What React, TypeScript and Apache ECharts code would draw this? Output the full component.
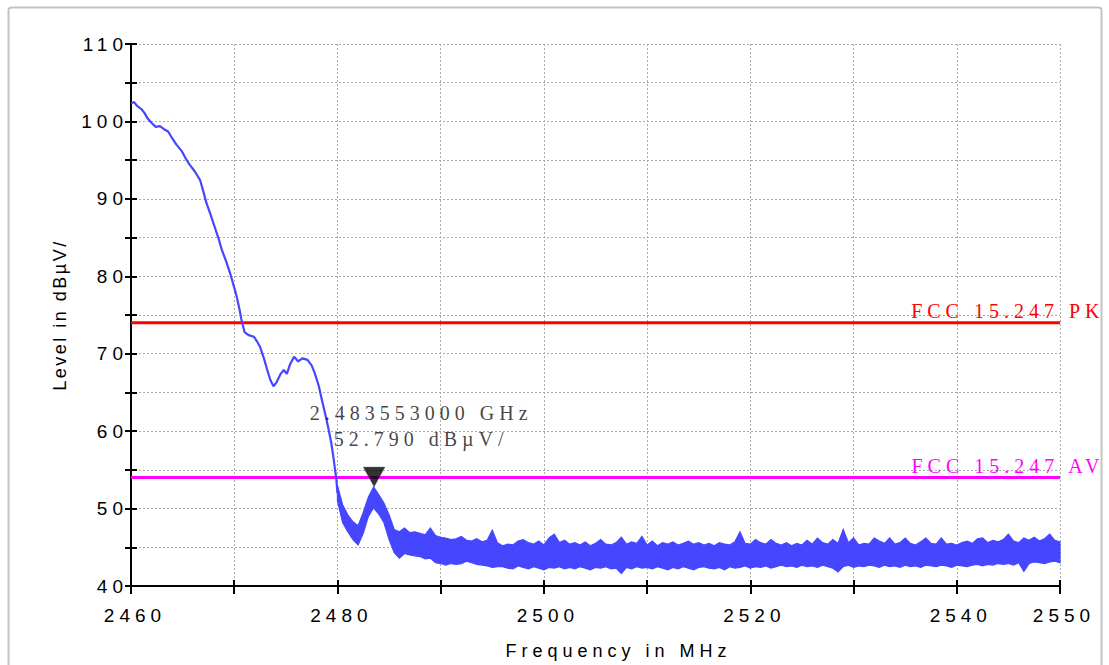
import React, { useEffect, useRef } from "react";
import * as echarts from "echarts";

// ---- data ----
const xLabelValues = [2460, 2480, 2500, 2520, 2540, 2550];
const yLabelValues = [40, 50, 60, 70, 80, 90, 100, 110];

// smooth part of the sweep (MHz, dBµV)
const sweepFreq = [2460.0, 2460.3, 2460.6, 2461.0, 2461.3, 2461.6, 2462.0, 2462.4, 2462.8, 2463.2, 2463.6, 2464.0, 2464.4, 2464.9, 2465.3, 2465.7, 2466.2, 2466.7, 2467.0, 2467.3, 2467.7, 2468.1, 2468.5, 2468.8, 2469.2, 2469.6, 2469.9, 2470.2, 2470.5, 2470.7, 2471.0, 2471.4, 2471.9, 2472.2, 2472.5, 2472.9, 2473.2, 2473.5, 2473.8, 2474.1, 2474.5, 2474.8, 2475.1, 2475.4, 2475.8, 2476.2, 2476.6, 2477.1, 2477.5, 2477.8, 2478.2, 2478.5, 2478.8, 2479.1, 2479.4, 2479.6, 2479.9, 2480.0];
const sweepLevel = [102.3, 102.5, 102.0, 101.6, 101.1, 100.4, 99.8, 99.3, 99.4, 99.0, 98.7, 97.8, 97.0, 96.2, 95.2, 94.4, 93.5, 92.4, 91.0, 89.5, 88.0, 86.4, 84.8, 83.4, 82.0, 80.4, 79.0, 77.6, 75.8, 74.4, 72.8, 72.4, 72.2, 71.6, 70.9, 69.3, 67.9, 66.6, 65.8, 66.3, 67.4, 67.9, 67.4, 68.6, 69.6, 69.0, 69.4, 69.2, 68.5, 67.5, 65.8, 64.0, 62.3, 60.5, 58.5, 56.7, 53.7, 52.0];

// noisy part: max / min envelope every 0.5 MHz from 2480 to 2550
const bandStart = 2480;
const bandStep = 0.5;
const bandMax = [
  53.0, 50.5, 49.2, 48.3, 47.8, 49.5, 51.5, 52.8, 51.8, 50.7,
  49.2, 47.3, 47.0, 47.5, 46.9, 47.0, 46.8, 46.6, 47.5, 46.5,
  46.3, 46.2, 46.0, 46.1, 46.4, 45.9, 45.8, 46.1, 45.7, 45.9,
  47.2, 45.6, 45.2, 45.4, 45.3, 45.8, 46.0, 45.6, 45.4, 45.8,
  45.3, 46.2, 46.7, 45.6, 45.9, 45.4, 45.6, 45.3, 45.7, 45.2,
  45.5, 46.0, 45.4, 45.3, 45.6, 46.3, 45.4, 45.7, 45.5, 46.4,
  45.3, 45.8, 45.2, 45.6, 45.4, 45.7, 45.3, 45.5, 45.8, 45.4,
  45.6, 45.3, 45.5, 45.2, 45.6, 45.4, 45.3, 45.7, 47.0, 45.5,
  45.4, 46.0, 45.6, 45.4, 46.0, 45.5, 45.3, 45.6, 45.2, 45.5,
  45.3, 45.9, 45.4, 46.2, 45.6, 45.4, 46.0, 45.5, 47.3, 45.6,
  46.2, 45.3, 45.5, 45.4, 46.2, 45.8, 45.5, 46.2, 45.4, 45.6,
  46.2, 45.5, 45.3, 45.7, 46.2, 45.5, 45.4, 46.2, 45.4, 45.5,
  45.3, 45.6, 45.8, 45.5, 46.1, 46.2, 45.6, 45.9, 45.7, 46.0,
  46.7, 45.8, 45.6, 46.2, 45.9, 46.3, 45.8, 46.1, 46.7, 45.9,
  45.7,
];
const bandMin = [
  51.0, 48.2, 47.0, 46.0, 45.3, 46.8, 49.0, 50.1, 49.3, 48.2,
  46.0, 44.3, 43.6, 44.2, 44.0, 43.9, 43.8, 43.5, 43.6, 43.0,
  42.9, 42.7, 42.9, 42.8, 42.9, 43.2, 43.0, 42.8, 42.7, 42.6,
  42.4, 42.5, 42.5, 42.3, 42.2, 42.6, 42.4, 42.2, 42.5, 42.3,
  42.1, 42.4, 42.3, 42.5, 42.2, 42.4, 42.2, 42.5, 42.3, 42.1,
  42.4, 42.3, 42.5, 42.2, 42.3, 41.6, 42.4, 42.2, 42.5, 42.3,
  42.4, 42.2, 42.5, 42.3, 42.1, 42.4, 42.2, 42.5, 42.3, 42.1,
  42.4, 42.5, 42.3, 42.2, 42.4, 42.1, 42.5, 42.3, 42.4, 42.6,
  42.3, 42.5, 42.4, 42.6, 42.3, 42.5, 42.7, 42.5, 42.6, 42.4,
  42.7, 42.5, 42.6, 42.4, 42.7, 42.5, 42.3, 41.8, 42.5, 42.7,
  42.4, 42.6, 42.5, 42.7, 42.6, 42.4, 42.7, 42.5, 42.6, 42.4,
  42.7, 42.5, 42.6, 42.4, 42.7, 42.6, 42.5, 42.7, 42.6, 42.4,
  42.7, 42.6, 42.5, 42.7, 42.8, 42.6, 42.8, 42.7, 42.9, 42.8,
  42.9, 42.7, 43.0, 41.9, 42.9, 43.1, 43.0, 42.9, 43.1, 43.2,
  43.0,
];

const markerFreq = 2483.553;
const markerLevel = 52.79;
const markerLines = ["2.483553000 GHz", "52.790 dBµV/"];

const limitNames = ["FCC 15.247 PK", "FCC 15.247 AV"];
const limitLevels = [74, 54];
const limitColors = ["#ff0000", "#ff00ff"];

const X_MIN = 2460;
const X_MAX = 2550;
const Y_MIN = 40;
const Y_MAX = 110;
const TRACE = "#4646ff";

export default function App() {
  const ref = useRef<HTMLDivElement>(null);

  useEffect(() => {
    if (!ref.current) return;
    const chart = echarts.init(ref.current, undefined, { renderer: "svg" });

    const bandFreq = bandMax.map((_, i) => bandStart + i * bandStep);
    const bandData = bandFreq.map((f, i) => [f, bandMin[i], bandMax[i]]);

    const gridLine = { show: true, lineStyle: { color: "#ababab", type: [2, 2] as any, width: 1 } };
    const axisLabelFont = { fontFamily: "Liberation Sans", fontSize: 19, color: "#000" };

    const limitSeries = limitLevels.map((lvl, k) => ({
      type: "line",
      name: limitNames[k],
      data: [[X_MIN, lvl], [X_MAX, lvl]],
      symbol: "none",
      lineStyle: { color: limitColors[k], width: 3 },
      z: 3,
      markPoint: {
        symbol: "circle",
        symbolSize: 1,
        silent: true,
        itemStyle: { color: "rgba(0,0,0,0)" },
        data: [{ coord: [X_MAX, lvl] }],
        label: {
          show: true,
          position: "left",
          distance: 0,
          offset: [45, -12],
          formatter: limitNames[k],
          color: limitColors[k],
          fontFamily: "Liberation Serif",
          fontSize: 20,
        },
      },
    }));

    chart.setOption({
      animation: false,
      backgroundColor: "#fff",
      graphic: [
        {
          type: "rect",
          shape: { x: 8.5, y: 7.5, width: 1093, height: 700, r: 3 },
          style: { fill: "none", stroke: "#c4c4c4", lineWidth: 2 },
          silent: true,
          z: -10,
        },
      ],
      grid: { left: 131, right: 49, top: 44, bottom: 78 },
      xAxis: [
        {
          type: "value",
          min: X_MIN,
          max: X_MAX,
          interval: 10,
          name: "Frequency in MHz",
          nameLocation: "middle",
          nameGap: 56,
          nameTextStyle: { fontFamily: "Liberation Sans", fontSize: 18, color: "#000", padding: [0, 0, 0, 46] },
          axisLine: { show: true, onZero: false, lineStyle: { color: "#000", width: 2 } },
          axisTick: { show: true, inside: false, length: 8, lineStyle: { color: "#000", width: 2 } },
          axisLabel: {
            ...axisLabelFont,
            margin: 20,
            padding: [0, 0, 0, 8],
            showMinLabel: true,
            showMaxLabel: true,
            formatter: (v: number) => (xLabelValues.includes(v) ? String(v) : ""),
          },
          splitLine: gridLine,
        },
        {
          type: "value",
          min: X_MIN,
          max: X_MAX,
          interval: 10,
          position: "bottom",
          axisLine: { show: false },
          axisTick: { show: true, inside: true, length: 6, lineStyle: { color: "#000", width: 2 } },
          axisLabel: { show: false },
          splitLine: { show: false },
        },
      ],
      yAxis: [
        {
          type: "value",
          min: Y_MIN,
          max: Y_MAX,
          interval: 5,
          name: "Level in dBµV/",
          nameLocation: "middle",
          nameGap: 62,
          nameTextStyle: { fontFamily: "Arial", fontSize: 18, color: "#000" },
          axisLine: { show: true, onZero: false, lineStyle: { color: "#000", width: 2 } },
          axisTick: { show: true, inside: false, length: 6, lineStyle: { color: "#000", width: 2 } },
          axisLabel: {
            ...axisLabelFont,
            margin: 3,
            formatter: (v: number) => (yLabelValues.includes(v) ? String(v) : ""),
          },
          splitLine: gridLine,
        },
        {
          type: "value",
          min: Y_MIN,
          max: Y_MAX,
          interval: 5,
          position: "left",
          axisLine: { show: false },
          axisTick: { show: true, inside: true, length: 6, lineStyle: { color: "#000", width: 2 } },
          axisLabel: { show: false },
          splitLine: { show: false },
        },
      ],
      series: [
        ...limitSeries,
        {
          type: "line",
          name: "sweep",
          data: sweepFreq.map((f, i) => [f, sweepLevel[i]]),
          symbol: "none",
          lineStyle: { color: TRACE, width: 2.2 },
          z: 4,
        },
        {
          type: "custom",
          name: "noise",
          data: bandData,
          encode: { x: 0, y: [1, 2] },
          z: 4,
          renderItem: (params: any, api: any) => {
            if (params.dataIndex !== 0) return null;
            const top = bandFreq.map((f, i) => api.coord([f, bandMax[i]]));
            const bottom = bandFreq.map((f, i) => api.coord([f, bandMin[i]])).reverse();
            return {
              type: "polygon",
              shape: { points: top.concat(bottom) },
              style: { fill: TRACE, stroke: TRACE, lineWidth: 1.2 },
            };
          },
        },
        {
          type: "scatter",
          name: "marker",
          data: [[markerFreq, markerLevel]],
          symbol: "triangle",
          symbolRotate: 180,
          symbolSize: [22, 20],
          symbolOffset: [0, -10],
          itemStyle: { color: "#000", borderColor: "#888", borderWidth: 0.5 },
          z: 6,
          label: {
            show: true,
            position: "top",
            distance: 5,
            offset: [47, -10],
            formatter: markerLines.join("\n"),
            fontFamily: "Liberation Serif",
            fontSize: 20,
            lineHeight: 26,
            color: "#111",
          },
        },
      ],
    });

    return () => chart.dispose();
  }, []);

  return (
    <>
      <style>{`
        #spec text[style*="Liberation Serif"] { letter-spacing: 5px; }
        #spec text[style*="Liberation Sans"] { letter-spacing: 5px; }
        #spec text[style*="Arial"] { letter-spacing: 2.5px; }
      `}</style>
      <div
        id="spec"
        ref={ref}
        style={{ position: "fixed", left: 0, top: 0, width: 1109, height: 665, background: "#fff" }}
      />
    </>
  );
}
